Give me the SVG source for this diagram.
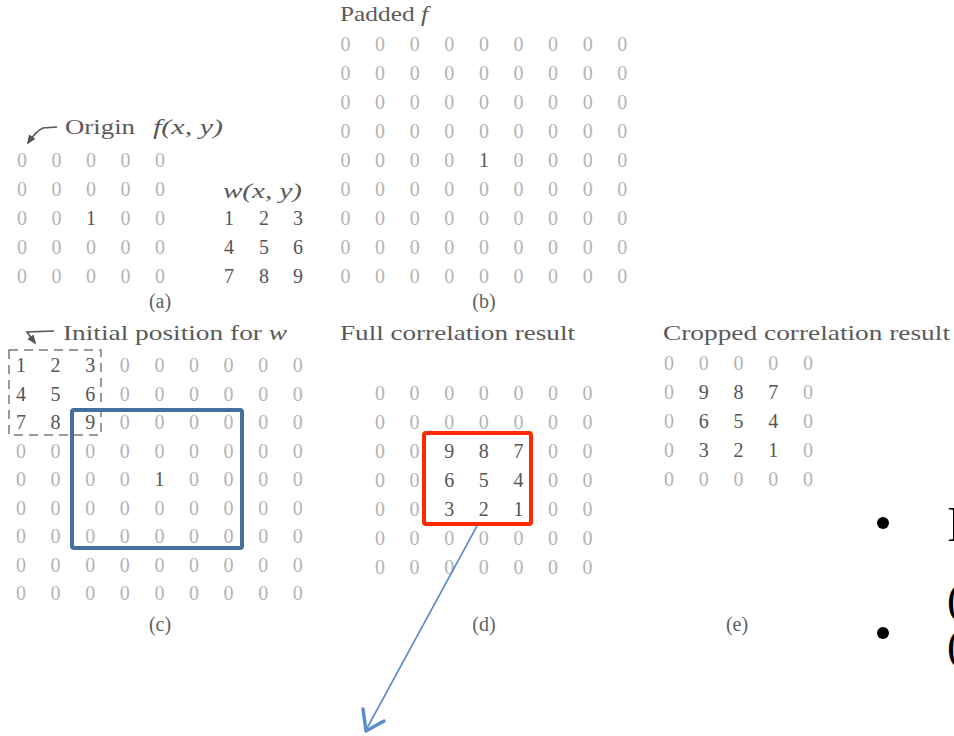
<svg xmlns="http://www.w3.org/2000/svg" width="954" height="736" viewBox="0 0 954 736">
<defs>
<style>
text{font-family:"Liberation Serif","Times New Roman",serif}
.z{fill:#b4b4b4;font-size:20px;text-anchor:middle}
.n{fill:#555;font-size:20px;text-anchor:middle}
.lb{fill:#5a5a5a;font-size:21px}
.cap{fill:#5f5f5f;font-size:20px;text-anchor:middle}
.it{font-style:italic}
.big{fill:#000;font-size:50px}
.par{fill:#000;font-size:44px}
</style>
<marker id="ah" viewBox="0 0 10 10" refX="8" refY="5" markerWidth="6" markerHeight="6" orient="auto">
<path d="M0,1 L10,5 L0,9 z" fill="#555"/>
</marker>
</defs>
<rect width="954" height="736" fill="#fff"/>

<g id="panel-a">
<text class="lb" x="65" y="134" textLength="70" lengthAdjust="spacingAndGlyphs">Origin</text>
<text class="lb it" x="153" y="134" textLength="70" lengthAdjust="spacingAndGlyphs">f(x, y)</text>
<text class="z" x="22 39.25 56.5 73.75 91 108.25 125.5 142.75 160" y="167">0 0 0 0 0</text>
<text class="z" x="22 39.25 56.5 73.75 91 108.25 125.5 142.75 160" y="196">0 0 0 0 0</text>
<text class="z" x="22 39.25 56.5" y="225">0 0</text><text class="n" x="91" y="225">1</text><text class="z" x="125.5 142.75 160" y="225">0 0</text>
<text class="z" x="22 39.25 56.5 73.75 91 108.25 125.5 142.75 160" y="254">0 0 0 0 0</text>
<text class="z" x="22 39.25 56.5 73.75 91 108.25 125.5 142.75 160" y="283">0 0 0 0 0</text>
<text class="lb it" x="223" y="198" textLength="79" lengthAdjust="spacingAndGlyphs">w(x, y)</text>
<text class="n" x="229 246.5 264 281 298" y="225">1 2 3</text>
<text class="n" x="229 246.5 264 281 298" y="254">4 5 6</text>
<text class="n" x="229 246.5 264 281 298" y="283">7 8 9</text>
<text class="cap" x="160" y="308">(a)</text>
</g>

<g id="panel-b">
<text class="lb" x="340" y="21" textLength="88" lengthAdjust="spacingAndGlyphs">Padded <tspan class="it">f</tspan></text>
<text class="z" x="345.5 362.8 380.1 397.4 414.7 432 449.3 466.6 483.9 501.2 518.5 535.8 553.1 570.4 587.7 605 622.3" y="51">0 0 0 0 0 0 0 0 0</text>
<text class="z" x="345.5 362.8 380.1 397.4 414.7 432 449.3 466.6 483.9 501.2 518.5 535.8 553.1 570.4 587.7 605 622.3" y="80">0 0 0 0 0 0 0 0 0</text>
<text class="z" x="345.5 362.8 380.1 397.4 414.7 432 449.3 466.6 483.9 501.2 518.5 535.8 553.1 570.4 587.7 605 622.3" y="109">0 0 0 0 0 0 0 0 0</text>
<text class="z" x="345.5 362.8 380.1 397.4 414.7 432 449.3 466.6 483.9 501.2 518.5 535.8 553.1 570.4 587.7 605 622.3" y="138">0 0 0 0 0 0 0 0 0</text>
<text class="z" x="345.5 362.8 380.1 397.4 414.7 432 449.3" y="167">0 0 0 0</text><text class="n" x="483.9" y="167">1</text><text class="z" x="518.5 535.8 553.1 570.4 587.7 605 622.3" y="167">0 0 0 0</text>
<text class="z" x="345.5 362.8 380.1 397.4 414.7 432 449.3 466.6 483.9 501.2 518.5 535.8 553.1 570.4 587.7 605 622.3" y="196">0 0 0 0 0 0 0 0 0</text>
<text class="z" x="345.5 362.8 380.1 397.4 414.7 432 449.3 466.6 483.9 501.2 518.5 535.8 553.1 570.4 587.7 605 622.3" y="225">0 0 0 0 0 0 0 0 0</text>
<text class="z" x="345.5 362.8 380.1 397.4 414.7 432 449.3 466.6 483.9 501.2 518.5 535.8 553.1 570.4 587.7 605 622.3" y="254">0 0 0 0 0 0 0 0 0</text>
<text class="z" x="345.5 362.8 380.1 397.4 414.7 432 449.3 466.6 483.9 501.2 518.5 535.8 553.1 570.4 587.7 605 622.3" y="283">0 0 0 0 0 0 0 0 0</text>
<text class="cap" x="484" y="308">(b)</text>
</g>

<g id="panel-c">
<text class="lb" x="63" y="340" textLength="224" lengthAdjust="spacingAndGlyphs">Initial position for <tspan class="it">w</tspan></text>
<rect x="9" y="350" width="92" height="85" fill="none" stroke="#7a7a7a" stroke-width="1.5" stroke-dasharray="9 6"/>
<text class="n" x="21 38.3 55.6 72.9 90.2" y="372">1 2 3</text><text class="z" x="124.8 142.1 159.4 176.7 194 211.3 228.6 245.9 263.2 280.5 297.8" y="372">0 0 0 0 0 0</text>
<text class="n" x="21 38.3 55.6 72.9 90.2" y="400.5">4 5 6</text><text class="z" x="124.8 142.1 159.4 176.7 194 211.3 228.6 245.9 263.2 280.5 297.8" y="400.5">0 0 0 0 0 0</text>
<text class="n" x="21 38.3 55.6 72.9 90.2" y="429">7 8 9</text><text class="z" x="124.8 142.1 159.4 176.7 194 211.3 228.6 245.9 263.2 280.5 297.8" y="429">0 0 0 0 0 0</text>
<text class="z" x="21 38.3 55.6 72.9 90.2 107.5 124.8 142.1 159.4 176.7 194 211.3 228.6 245.9 263.2 280.5 297.8" y="457.5">0 0 0 0 0 0 0 0 0</text>
<text class="z" x="21 38.3 55.6 72.9 90.2 107.5 124.8" y="486">0 0 0 0</text><text class="n" x="159.4" y="486">1</text><text class="z" x="194 211.3 228.6 245.9 263.2 280.5 297.8" y="486">0 0 0 0</text>
<text class="z" x="21 38.3 55.6 72.9 90.2 107.5 124.8 142.1 159.4 176.7 194 211.3 228.6 245.9 263.2 280.5 297.8" y="514.5">0 0 0 0 0 0 0 0 0</text>
<text class="z" x="21 38.3 55.6 72.9 90.2 107.5 124.8 142.1 159.4 176.7 194 211.3 228.6 245.9 263.2 280.5 297.8" y="543">0 0 0 0 0 0 0 0 0</text>
<text class="z" x="21 38.3 55.6 72.9 90.2 107.5 124.8 142.1 159.4 176.7 194 211.3 228.6 245.9 263.2 280.5 297.8" y="571.5">0 0 0 0 0 0 0 0 0</text>
<text class="z" x="21 38.3 55.6 72.9 90.2 107.5 124.8 142.1 159.4 176.7 194 211.3 228.6 245.9 263.2 280.5 297.8" y="600">0 0 0 0 0 0 0 0 0</text>
<rect x="72" y="410" width="170" height="138" rx="2" fill="none" stroke="#45709E" stroke-width="4"/>
<text class="cap" x="160" y="631">(c)</text>
</g>

<g id="panel-d">
<text class="lb" x="340" y="340" textLength="235" lengthAdjust="spacingAndGlyphs">Full correlation result</text>
<text class="z" x="380 397.3 414.6 431.9 449.2 466.5 483.8 501.1 518.4 535.7 553 570.3 587.6" y="400">0 0 0 0 0 0 0</text>
<text class="z" x="380 397.3 414.6 431.9 449.2 466.5 483.8 501.1 518.4 535.7 553 570.3 587.6" y="429">0 0 0 0 0 0 0</text>
<text class="z" x="380 397.3 414.6" y="458">0 0</text><text class="n" x="449.2 466.5 483.8 501.1 518.4" y="458">9 8 7</text><text class="z" x="553 570.3 587.6" y="458">0 0</text>
<text class="z" x="380 397.3 414.6" y="487">0 0</text><text class="n" x="449.2 466.5 483.8 501.1 518.4" y="487">6 5 4</text><text class="z" x="553 570.3 587.6" y="487">0 0</text>
<text class="z" x="380 397.3 414.6" y="516">0 0</text><text class="n" x="449.2 466.5 483.8 501.1 518.4" y="516">3 2 1</text><text class="z" x="553 570.3 587.6" y="516">0 0</text>
<text class="z" x="380 397.3 414.6 431.9 449.2 466.5 483.8 501.1 518.4 535.7 553 570.3 587.6" y="545">0 0 0 0 0 0 0</text>
<text class="z" x="380 397.3 414.6 431.9 449.2 466.5 483.8 501.1 518.4 535.7 553 570.3 587.6" y="574">0 0 0 0 0 0 0</text>
<rect x="424" y="433" width="107" height="91" rx="2" fill="none" stroke="#FF2A00" stroke-width="4"/>
<text class="cap" x="484" y="631">(d)</text>
</g>

<g id="panel-e">
<text class="lb" x="663" y="340" textLength="287" lengthAdjust="spacingAndGlyphs">Cropped correlation result</text>
<text class="z" x="669 686.4 703.75 721.1 738.5 755.9 773.25 790.6 808" y="370">0 0 0 0 0</text>
<text class="z" x="669" y="399">0</text><text class="n" x="703.75 721.1 738.5 755.9 773.25" y="399">9 8 7</text><text class="z" x="808" y="399">0</text>
<text class="z" x="669" y="428">0</text><text class="n" x="703.75 721.1 738.5 755.9 773.25" y="428">6 5 4</text><text class="z" x="808" y="428">0</text>
<text class="z" x="669" y="457">0</text><text class="n" x="703.75 721.1 738.5 755.9 773.25" y="457">3 2 1</text><text class="z" x="808" y="457">0</text>
<text class="z" x="669 686.4 703.75 721.1 738.5 755.9 773.25 790.6 808" y="486">0 0 0 0 0</text>
<text class="cap" x="737" y="631">(e)</text>
</g>

<g id="bullets">
<circle cx="883" cy="523" r="6" fill="#000"/>
<text class="big" x="947" y="541">I</text>
<text class="par" x="947" y="614">(</text>
<circle cx="883" cy="633" r="6" fill="#000"/>
<text class="par" x="947" y="660">(</text>
</g>

<g id="connectors" fill="none">
<path d="M57,127 L43,128 Q36,131 28,143" stroke="#555" stroke-width="1.6" marker-end="url(#ah)"/>
<path d="M54,331 L27,332 L35,343" stroke="#555" stroke-width="1.6" marker-end="url(#ah)"/>
<line x1="477" y1="526" x2="366" y2="730" stroke="#5B8EC8" stroke-width="1.6"/>
<polyline points="363,709 366,731 384,721" stroke="#5B8EC8" stroke-width="3.5" stroke-linecap="round" stroke-linejoin="round"/>
</g>
</svg>
